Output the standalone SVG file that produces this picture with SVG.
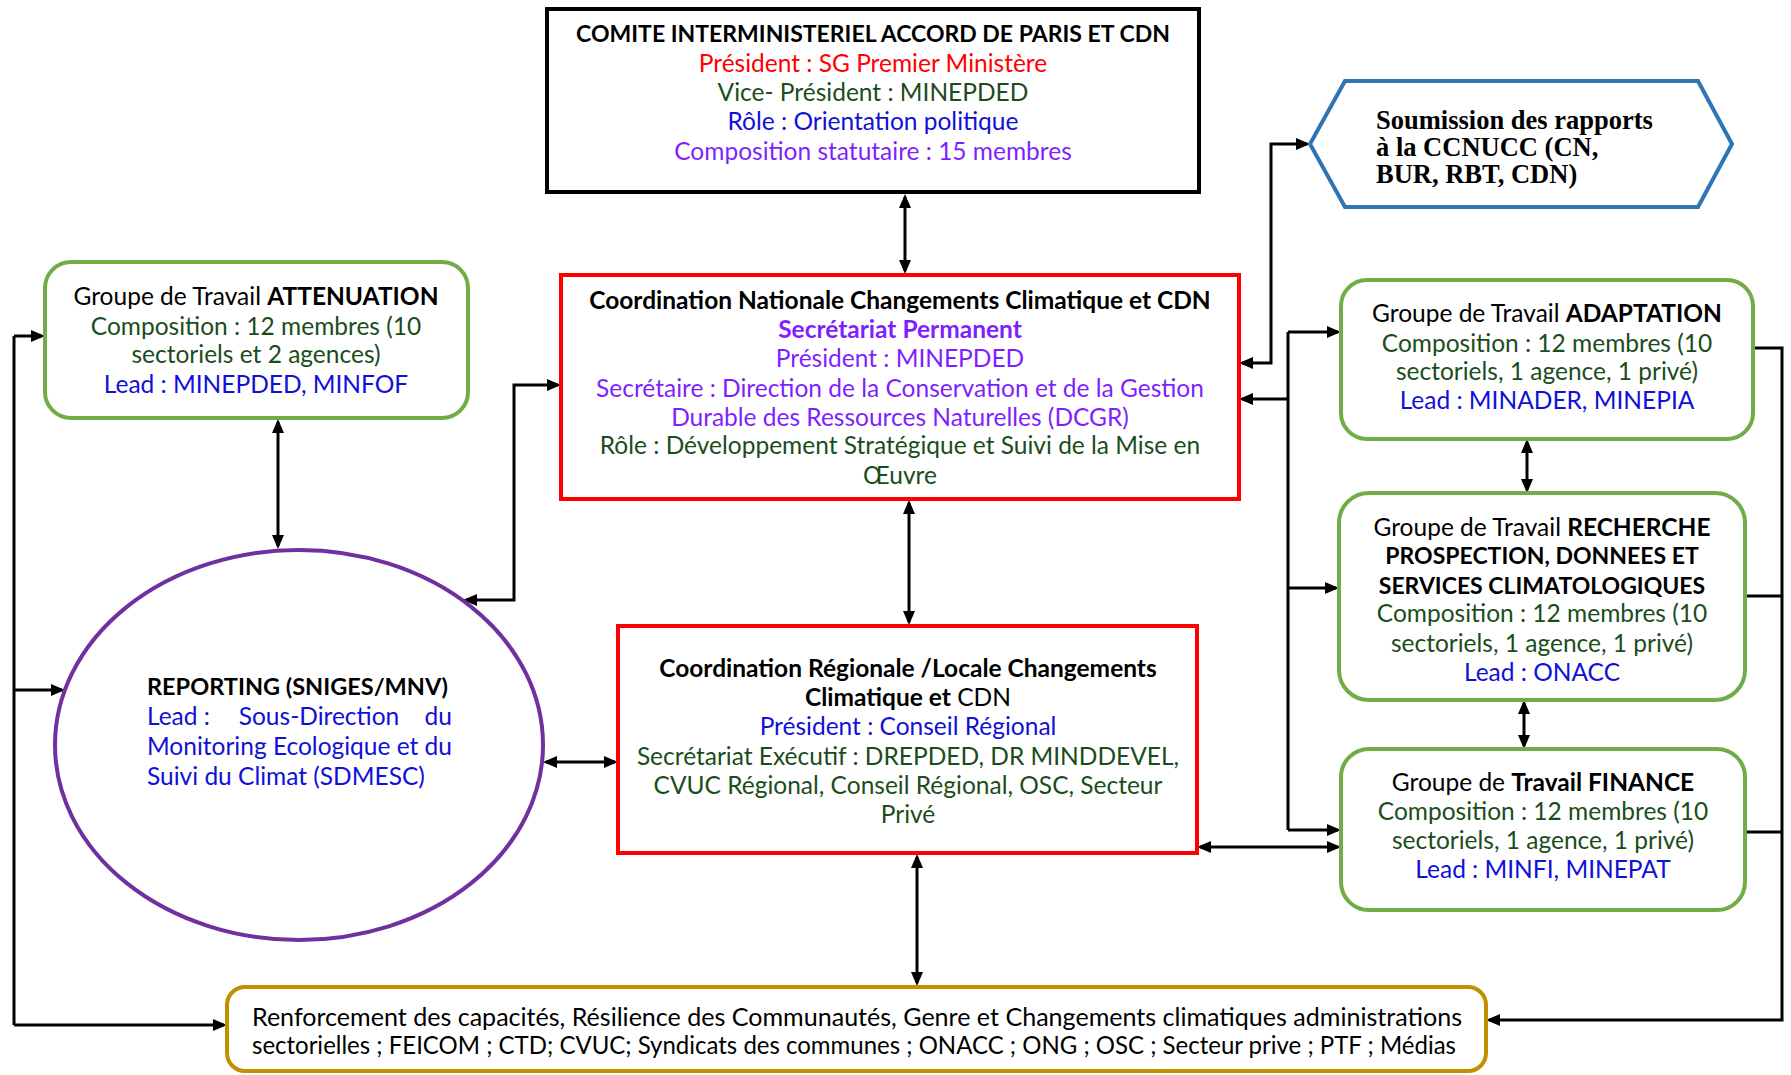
<svg xmlns="http://www.w3.org/2000/svg" width="1791" height="1075" viewBox="0 0 1791 1075">
<defs>
<marker id="ah" viewBox="0 0 14 12" refX="11" refY="6" markerWidth="14" markerHeight="12" markerUnits="userSpaceOnUse" orient="auto-start-reverse">
<path d="M0,0 L14,6 L0,12 z" fill="#000"/>
</marker>
<style>
text{font-family:Lato,"Liberation Sans",sans-serif;font-size:24.5px;text-anchor:middle}
.b{font-weight:bold}
.caps{font-size:23px}
.blk{fill:#000}
.red{fill:#FF0000}
.grn{fill:#1B4D1B}
.blu{fill:#1010D8}
.pur{fill:#7F1FFF}
.rect{fill:#fff;stroke-width:4}
.gw{fill:#fff;stroke:#70AD47;stroke-width:4}
.c{fill:none;stroke:#000;stroke-width:3}
.ca{fill:none;stroke:#000;stroke-width:3;marker-end:url(#ah)}
.cb{fill:none;stroke:#000;stroke-width:3;marker-start:url(#ah);marker-end:url(#ah)}
.serif{font-family:"Liberation Serif",serif;font-weight:bold;font-size:26.5px;text-anchor:start}
</style>
</defs>
<rect width="1791" height="1075" fill="#fff"/>

<g id="connectors">
<path class="cb" d="M905,197 V271" stroke-width="4"/>
<path class="cb" d="M909,503 V622"/>
<path class="cb" d="M917,857 V983"/>
<path class="cb" d="M278,422 V546"/>
<path class="cb" d="M558,385 H514 V600 H466"/>
<path class="cb" d="M546,762 H615"/>
<path class="c" d="M14,336 V1025"/>
<path class="ca" d="M14,336 H42"/>
<path class="ca" d="M14,690 H62"/>
<path class="ca" d="M14,1025 H224"/>
<path class="cb" d="M1242,363 H1271 V144 H1307"/>
<path class="c" d="M1288,332 V830"/>
<path class="ca" d="M1288,332 H1338"/>
<path class="ca" d="M1288,399 H1242"/>
<path class="ca" d="M1288,588 H1336"/>
<path class="ca" d="M1288,830 H1338"/>
<path class="cb" d="M1200,847 H1338"/>
<path class="ca" d="M1753,348 H1782 V1020 H1489"/>
<path class="c" d="M1745,596 H1782"/>
<path class="c" d="M1745,832 H1782"/>
<path class="cb" d="M1527,442 V490"/>
<path class="cb" d="M1524,703 V746"/>
</g>

<g id="comite">
<rect class="rect" x="547" y="9" width="652" height="183" stroke="#000"/>
<text x="873" y="42" class="b blk caps">COMITE INTERMINISTERIEL ACCORD DE PARIS ET CDN</text>
<text x="873" y="72" class="red">Président : SG Premier Ministère</text>
<text x="873" y="101" class="grn">Vice- Président : MINEPDED</text>
<text x="873" y="130" class="blu">Rôle : Orientation politique</text>
<text x="873" y="160" class="pur">Composition statutaire : 15 membres</text>
</g>

<g id="soumission">
<polygon points="1310,144 1345,81 1698,81 1732,144 1698,207 1345,207" fill="#fff" stroke="#2E75B6" stroke-width="4"/>
<text x="1376" y="129" class="serif">Soumission des rapports</text>
<text x="1376" y="156" class="serif">à la CCNUCC (CN,</text>
<text x="1376" y="183" class="serif">BUR, RBT, CDN)</text>
</g>

<g id="attenuation">
<rect class="gw" x="45" y="262" width="423" height="156" rx="26"/>
<text x="256" y="305" class="blk">Groupe de Travail <tspan class="b">ATTENUATION</tspan></text>
<text x="256" y="335" class="grn">Composition : 12 membres (10</text>
<text x="256" y="363" class="grn">sectoriels et 2 agences)</text>
<text x="256" y="393" class="blu">Lead : MINEPDED, MINFOF</text>
</g>

<g id="coord-nationale">
<rect class="rect" x="561" y="275" width="678" height="224" stroke="#FF0000"/>
<text x="900" y="309" class="b blk">Coordination Nationale Changements Climatique et CDN</text>
<text x="900" y="338" class="b pur">Secrétariat Permanent</text>
<text x="900" y="367" class="pur">Président : MINEPDED</text>
<text x="900" y="397" class="pur">Secrétaire : Direction de la Conservation et de la Gestion</text>
<text x="900" y="426" class="pur">Durable des Ressources Naturelles (DCGR)</text>
<text x="900" y="454" class="grn">Rôle : Développement Stratégique et Suivi de la Mise en</text>
<text x="900" y="484" class="grn">Œuvre</text>
</g>

<g id="adaptation">
<rect class="gw" x="1341" y="280" width="412" height="159" rx="26"/>
<text x="1547" y="322" class="blk">Groupe de Travail <tspan class="b">ADAPTATION</tspan></text>
<text x="1547" y="352" class="grn">Composition : 12 membres (10</text>
<text x="1547" y="380" class="grn">sectoriels, 1 agence, 1 privé)</text>
<text x="1547" y="409" class="blu">Lead : MINADER, MINEPIA</text>
</g>

<g id="recherche">
<rect class="gw" x="1339" y="493" width="406" height="207" rx="30"/>
<text x="1542" y="536" class="blk">Groupe de Travail <tspan class="b">RECHERCHE</tspan></text>
<text x="1542" y="564" class="b blk caps">PROSPECTION, DONNEES ET</text>
<text x="1542" y="594" class="b blk caps">SERVICES CLIMATOLOGIQUES</text>
<text x="1542" y="622" class="grn">Composition : 12 membres (10</text>
<text x="1542" y="652" class="grn">sectoriels, 1 agence, 1 privé)</text>
<text x="1542" y="681" class="blu">Lead : ONACC</text>
</g>

<g id="finance">
<rect class="gw" x="1341" y="749" width="404" height="161" rx="28"/>
<text x="1543" y="791" class="blk">Groupe de <tspan class="b">Travail FINANCE</tspan></text>
<text x="1543" y="820" class="grn">Composition : 12 membres (10</text>
<text x="1543" y="849" class="grn">sectoriels, 1 agence, 1 privé)</text>
<text x="1543" y="878" class="blu">Lead : MINFI, MINEPAT</text>
</g>

<g id="reporting">
<ellipse cx="299" cy="745" rx="244" ry="195" fill="#fff" stroke="#7030A0" stroke-width="4"/>
<text x="147" y="695" class="b blk" style="text-anchor:start;font-size:23.5px">REPORTING (SNIGES/MNV)</text>
<text x="147" y="725" class="blu" style="text-anchor:start">Lead :</text>
<text x="319" y="725" class="blu">Sous-Direction</text>
<text x="452" y="725" class="blu" style="text-anchor:end">du</text>
<text x="147" y="755" class="blu" style="text-anchor:start" textLength="305">Monitoring Ecologique et du</text>
<text x="147" y="785" class="blu" style="text-anchor:start">Suivi du Climat (SDMESC)</text>
</g>

<g id="coord-regionale">
<rect class="rect" x="618" y="626" width="579" height="227" stroke="#FF0000"/>
<text x="908" y="677" class="b blk">Coordination Régionale /Locale Changements</text>
<text x="908" y="706" class="blk"><tspan class="b">Climatique et</tspan> CDN</text>
<text x="908" y="735" class="blu">Président : Conseil Régional</text>
<text x="908" y="765" class="grn">Secrétariat Exécutif : DREPDED, DR MINDDEVEL,</text>
<text x="908" y="794" class="grn">CVUC Régional, Conseil Régional, OSC, Secteur</text>
<text x="908" y="823" class="grn">Privé</text>
</g>

<g id="renforcement">
<rect x="227" y="987" width="1259" height="84" rx="18" fill="#fff" stroke="#BF9000" stroke-width="4"/>
<text x="857" y="1026" class="blk" textLength="1210" lengthAdjust="spacingAndGlyphs">Renforcement des capacités, Résilience des Communautés, Genre et Changements climatiques administrations</text>
<text x="854" y="1054" class="blk" textLength="1204" lengthAdjust="spacingAndGlyphs">sectorielles ; FEICOM ; CTD; CVUC; Syndicats des communes ; ONACC ; ONG ; OSC ; Secteur prive ;  PTF ; Médias</text>
</g>
</svg>
